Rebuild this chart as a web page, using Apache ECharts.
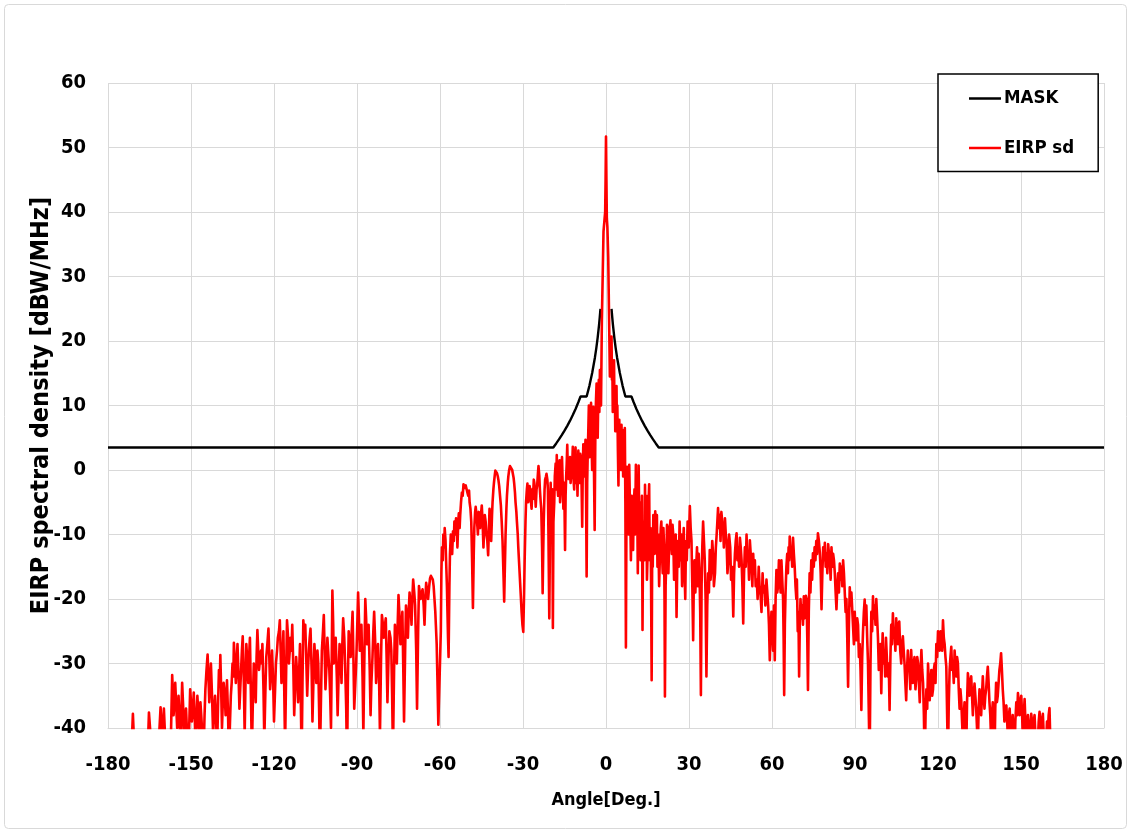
<!DOCTYPE html>
<html>
<head>
<meta charset="utf-8">
<script src="https://cdn.jsdelivr.net/npm/echarts@6/dist/echarts.min.js"></script>
<style>
html,body{margin:0;padding:0;background:#fff;}
#chart{width:1131px;height:833px;}
</style>
</head>
<body>
<div id="chart"></div>
<script>
// Axis ticks
const xTicks = [-180,-150,-120,-90,-60,-30,0,30,60,90,120,150,180];
const yTicks = [-40,-30,-20,-10,0,10,20,30,40,50,60];

// MASK (angle in degrees, dBW/MHz) - gap around boresight
const maskAngles = [-180,-19.05,-18,-17,-16,-15,-14,-13,-12,-11,-10,-9.2,-7,-6,-5,-4,-3.5,-3,-2.5,-2.25,-2,0,2,2.25,2.5,3,3.5,4,5,6,7,9.2,10,11,12,13,14,15,16,17,18,19.05,180];
const maskValues = [3.5,3.5,4.12,4.74,5.4,6.1,6.85,7.65,8.52,9.47,10.5,11.4,11.4,13.05,15.03,17.45,18.9,20.57,22.55,23.7,24.97,null,24.97,23.7,22.55,20.57,18.9,17.45,15.03,13.05,11.4,11.4,10.5,9.47,8.52,7.65,6.85,6.1,5.4,4.74,4.12,3.5,3.5];

// EIRP sd [angle, value] by region
const eirpLeftFar = [[-171.5,-45],[-171.2,-40],[-171,-37.8],[-170.7,-41],[-170.5,-44],[-169.8,-48],[-169,-45],[-168.5,-43],[-168,-41],[-167.5,-44],[-167,-46],[-166.5,-42],[-166,-40.5],[-165.6,-43],[-165.2,-37.6],[-164.8,-40],[-164.5,-44],[-163.8,-46],[-163,-42],[-162.5,-44],[-162,-46],[-161.5,-41],[-161,-36.8],[-160.7,-39],[-160.5,-43],[-160.1,-40],[-159.8,-37],[-159.4,-41],[-159,-45],[-158.5,-43],[-158,-41],[-157.8,-44],[-157.5,-47],[-157.1,-38],[-156.8,-31.8],[-156.5,-35],[-156.3,-38],[-156,-36],[-155.7,-33],[-155.3,-37],[-155,-40],[-154.7,-38],[-154.5,-35],[-154.1,-39],[-153.8,-44],[-153.5,-38],[-153.2,-33],[-152.8,-37],[-152.5,-42],[-152.1,-39],[-151.8,-37],[-151.4,-41],[-151,-45],[-150.6,-39],[-150.3,-34],[-150,-36],[-149.7,-39],[-149.3,-37],[-149,-34.5],[-148.6,-39],[-148.3,-44],[-148,-39],[-147.7,-35],[-147.3,-38],[-147,-41],[-146.6,-36],[-146.3,-38],[-145.9,-41],[-145.5,-45],[-145.1,-38],[-144.8,-34],[-144.4,-31],[-144,-28.6],[-143.7,-32],[-143.4,-36],[-143.1,-33],[-142.8,-30],[-142.4,-35],[-142,-41],[-141.6,-37],[-141.3,-35],[-140.9,-39],[-140.6,-44],[-140.2,-36],[-139.9,-31],[-139.6,-33],[-139.4,-28.7],[-139.1,-34],[-138.8,-40],[-138.5,-36],[-138.2,-33],[-137.8,-35],[-137.5,-38],[-137.2,-35],[-137,-32.6],[-136.6,-38],[-136.3,-45],[-135.9,-39],[-135.6,-35],[-135.3,-33],[-135,-30],[-134.7,-32],[-134.5,-26.8],[-134.1,-30],[-133.8,-33],[-133.5,-30],[-133.2,-27],[-132.8,-32],[-132.5,-37],[-132.2,-34],[-131.9,-31],[-131.6,-28],[-131.3,-25.8],[-130.9,-33],[-130.6,-41],[-130.3,-33],[-130,-27],[-129.6,-30],[-129.3,-33],[-129,-29],[-128.7,-26],[-128.3,-36],[-128,-44],[-127.6,-35],[-127.3,-30],[-126.9,-33],[-126.6,-36],[-126.3,-29],[-126,-24.8],[-125.7,-28],[-125.4,-31],[-125,-29],[-124.7,-28],[-124.4,-30],[-124.2,-27],[-123.8,-34],[-123.5,-42],[-123.1,-34],[-122.8,-29],[-122.4,-27],[-122,-24.6],[-121.7,-29],[-121.4,-34],[-121,-31],[-120.7,-28],[-120.3,-33],[-120,-39],[-119.6,-34],[-119.3,-30],[-118.9,-28],[-118.6,-26],[-118.2,-25],[-117.9,-23.3],[-117.6,-28],[-117.3,-33],[-116.9,-29],[-116.6,-25],[-116.3,-34],[-116,-43],[-115.6,-31],[-115.3,-23.3],[-114.9,-26],[-114.6,-30],[-114.3,-28],[-114,-26],[-113.7,-28],[-113.4,-24],[-113,-31],[-112.7,-38],[-112.3,-33],[-112,-29],[-111.6,-32],[-111.3,-36],[-110.9,-31],[-110.6,-27],[-110.3,-36],[-110,-45],[-109.7,-33],[-109.4,-23.3],[-109,-26],[-108.7,-24],[-108.3,-30],[-108,-35],[-107.7,-31],[-107.4,-28],[-107.1,-26],[-106.8,-24.6],[-106.4,-31],[-106.1,-39],[-105.7,-32],[-105.4,-27],[-105,-30],[-104.7,-33],[-104.3,-28],[-104,-30],[-103.7,-37],[-103.4,-45],[-103,-35],[-102.7,-28],[-102.3,-25],[-102,-22.5],[-101.7,-28],[-101.4,-34],[-101,-30],[-100.7,-26],[-100.3,-29],[-100,-31],[-99.7,-35],[-99.4,-40],[-99.1,-28]];
const eirpLeftMid = [[-98.9,-18.7],[-98.6,-24],[-98.4,-30],[-98,-28],[-97.7,-26],[-97.3,-32],[-97,-38],[-96.6,-31],[-96.3,-27],[-95.9,-29],[-95.6,-33],[-95.3,-27],[-95,-23],[-94.6,-26],[-94.3,-30],[-93.9,-37],[-93.6,-46],[-93.3,-33],[-93,-25],[-92.6,-27],[-92.3,-29],[-91.9,-25],[-91.6,-22],[-91.3,-29],[-91,-37],[-90.6,-33],[-90.3,-30],[-89.9,-24],[-89.6,-19],[-89.3,-23],[-89,-28],[-88.7,-26],[-88.4,-24],[-88,-32],[-87.7,-41],[-87.3,-28],[-87,-20],[-86.7,-23],[-86.4,-27],[-86.1,-25],[-85.8,-24],[-85.4,-31],[-85.1,-38],[-84.8,-33],[-84.4,-29],[-84.1,-25],[-83.8,-22],[-83.4,-27],[-83.1,-33],[-82.7,-29],[-82.4,-27],[-82,-33],[-81.7,-41],[-81.3,-29],[-81,-22.5],[-80.6,-24],[-80.3,-26],[-79.9,-24],[-79.6,-23],[-79.3,-29],[-79,-36],[-78.6,-29],[-78.3,-25],[-77.9,-26],[-77.6,-28],[-77.3,-35],[-77,-44],[-76.6,-31],[-76.3,-24],[-75.9,-27],[-75.6,-30],[-75.3,-24],[-75,-19.4],[-74.6,-23],[-74.3,-27],[-73.9,-24],[-73.6,-22],[-73.3,-30],[-73,-39],[-72.6,-28],[-72.3,-21],[-71.9,-23],[-71.6,-26],[-71.3,-22],[-71,-19],[-70.6,-21],[-70.3,-24],[-70,-20],[-69.7,-17],[-69.3,-19],[-69,-21],[-68.6,-28],[-68.3,-37],[-67.9,-25],[-67.6,-18],[-67.3,-19],[-67,-20],[-66.6,-19],[-66.3,-18.5],[-65.9,-21],[-65.6,-24],[-65.3,-20],[-65,-17.5],[-64.6,-19],[-64.3,-20],[-63.9,-18],[-63.6,-16.8],[-63.3,-16.4],[-63,-16.1],[-62.6,-17],[-62.3,-18],[-62,-20],[-61.7,-22],[-61.5,-24],[-61.2,-27],[-60.9,-33],[-60.6,-39.5],[-60.2,-39.5]];
const eirpLeftNear = [[-59.7,-25],[-59.5,-16],[-59.3,-12],[-59,-14],[-58.8,-10],[-58.5,-12],[-58.3,-9],[-58,-11],[-57.8,-14],[-57.5,-18],[-57.3,-22],[-57.1,-26],[-56.9,-29],[-56.6,-18],[-56.4,-13],[-56.1,-10],[-55.9,-11],[-55.6,-13],[-55.3,-9.5],[-55,-11],[-54.8,-8],[-54.5,-10],[-54.2,-7.5],[-53.9,-9],[-53.7,-12],[-53.4,-8],[-53.2,-6.7],[-52.9,-9],[-52.7,-7],[-52.4,-5],[-52.1,-3.5],[-51.8,-4],[-51.5,-2.2],[-51.2,-2.8],[-51,-3],[-50.7,-2.4],[-50.4,-2.5],[-50.1,-3.5],[-49.8,-4],[-49.5,-3.2],[-49.3,-5],[-49,-6],[-48.7,-8],[-48.4,-14],[-48.1,-21.4],[-47.8,-13],[-47.6,-9],[-47.3,-6.5],[-47.1,-5.7],[-46.8,-7],[-46.6,-8],[-46.3,-10],[-46,-6.5],[-45.7,-7.5],[-45.5,-9],[-45.2,-7],[-44.9,-5.5],[-44.6,-8],[-44.3,-12],[-44,-9],[-43.8,-7],[-43.5,-8],[-43.2,-10],[-42.9,-11],[-42.6,-13.2],[-42.3,-9],[-42.1,-6],[-41.8,-8],[-41.5,-11],[-41.2,-7],[-41,-5],[-40.7,-3],[-40.5,-2],[-40.2,-0.8],[-40,-0.1],[-39.7,-0.3],[-39.4,-0.5],[-39.1,-1],[-38.9,-1.5],[-38.6,-2.5],[-38.3,-4],[-38,-5.5],[-37.7,-8],[-37.4,-11],[-37.2,-14],[-37,-17],[-36.8,-20.4],[-36.6,-16],[-36.3,-10],[-36,-6],[-35.8,-4],[-35.5,-2],[-35.3,-1],[-35,0],[-34.7,0.6],[-34.4,0.5],[-34.2,0.4],[-33.9,0],[-33.7,-0.5],[-33.4,-1.2],[-33.2,-2],[-32.9,-3.5],[-32.7,-5],[-32.4,-6.5],[-32.2,-8],[-31.9,-10],[-31.7,-12],[-31.4,-14.5],[-31.1,-17],[-30.8,-19.5],[-30.5,-22],[-30.2,-24],[-29.9,-25.1],[-29.6,-19],[-29.4,-14],[-29.1,-8],[-28.9,-5],[-28.6,-3],[-28.4,-2.1],[-28.1,-5],[-27.9,-4],[-27.6,-2.5],[-27.4,-3],[-27.1,-5],[-26.9,-6],[-26.6,-3],[-26.4,-4.5],[-26.1,-1.5],[-25.9,-2],[-25.6,-4],[-25.4,-5.7],[-25.1,-3],[-24.9,-2.5],[-24.6,-0.5],[-24.4,0.6],[-24.1,-1],[-23.9,-3],[-23.6,-5],[-23.4,-6],[-23.1,-12],[-22.9,-19.1],[-22.7,-13],[-22.5,-8],[-22.2,-3],[-22,-1.5],[-21.7,-1],[-21.5,-0.6],[-21.2,-1.5],[-21,-3],[-20.8,-10],[-20.5,-23],[-20.2,-8],[-20,-2],[-19.9,-6],[-19.6,-10],[-19.4,-3],[-19.2,-24.5],[-19,-8],[-18.7,-5],[-18.5,-1],[-18.2,1],[-18,-3],[-17.8,2.3],[-17.6,-2],[-17.3,-4],[-17.1,0],[-16.8,1.5],[-16.6,-5],[-16.3,-2],[-16.1,0.5],[-15.9,2],[-15.6,-3],[-15.4,-6],[-15.1,-2],[-14.8,-12.4],[-14.6,-4],[-14.4,-1],[-14.2,1],[-14,3.9],[-13.8,0],[-13.5,-1.4],[-13.3,1.5],[-13,2],[-12.8,-2],[-12.5,0],[-12.2,1],[-12,3.6],[-11.8,-1],[-11.5,-3],[-11.3,1],[-11,3.5],[-10.8,-2],[-10.5,0],[-10.3,-4],[-10,3],[-9.8,0],[-9.5,-2],[-9.3,2.5],[-9,1.6],[-8.8,-3],[-8.6,-8.8],[-8.4,0],[-8.2,4],[-8,-1],[-7.8,0],[-7.6,3],[-7.4,4.7],[-7.2,-4],[-7,-16.5],[-6.8,-2],[-6.6,2.6],[-6.4,6],[-6.2,10],[-6,2],[-5.8,4.6],[-5.6,8],[-5.4,10.4],[-5.2,4],[-5,0],[-4.8,6],[-4.6,9.8],[-4.4,2],[-4.1,-9.3],[-3.9,3],[-3.8,8],[-3.6,11],[-3.4,13.4],[-3.2,7],[-3,5],[-2.8,11],[-2.6,14],[-2.4,9],[-2.2,15.5],[-2,12],[-1.8,10]];
const eirpCenter = [[-1.5,23],[-1.2,30],[-0.9,37],[-0.5,39],[-0.3,40],[-0.15,45],[0,51.7],[0.15,45],[0.3,39],[0.5,37.7],[0.8,33],[1.1,24],[1.4,14.5],[1.7,18],[2,20.7],[2.15,14],[2.3,16],[2.45,9],[2.6,11],[2.75,15],[2.9,17],[3.05,10],[3.2,12.9],[3.35,6],[3.5,8],[3.65,12],[3.8,13],[3.95,6],[4.1,10],[4.3,3],[4.5,-2.4],[4.65,4],[4.8,7.8],[5,2],[5.2,5],[5.4,0],[5.6,7],[5.8,3],[6,6.2],[6.2,-1],[6.4,1],[6.6,4],[6.8,6.5],[7,-5],[7.2,-27.5],[7.4,-6],[7.6,0.5],[7.8,-8],[8,-3],[8.2,-10],[8.4,0.8],[8.6,-4],[8.8,-8],[9,-14],[9.3,-4],[9.5,-9],[9.8,-12.4],[10,-6],[10.3,-3],[10.5,-10],[10.8,0.8],[11,-8],[11.3,-6],[11.5,-16],[11.8,0.7],[12,-7],[12.3,-5],[12.5,-14],[12.8,-10],[13,-4],[13.2,-24.8],[13.4,-10],[13.7,-8],[13.9,-14],[14.1,-2.3],[14.3,-9],[14.6,-4],[14.8,-17],[15.1,-12],[15.3,-6],[15.6,-2.2],[15.8,-14],[16.1,-9],[16.3,-18],[16.5,-32.6],[16.7,-12],[16.9,-15],[17.1,-7],[17.4,-8],[17.6,-13],[17.8,-6.4],[18.1,-12],[18.4,-7],[18.6,-15],[18.9,-10],[19.2,-18],[19.5,-13],[19.8,-9]];
const eirpRightNear = [[20,-8],[20.25,-13],[20.5,-16],[20.75,-9],[21,-12],[21.15,-20],[21.3,-35.1],[21.55,-18],[21.8,-14],[22.05,-8.5],[22.3,-9],[22.55,-16],[22.8,-12],[23.05,-9],[23.3,-7.8],[23.55,-11],[23.8,-13],[24.05,-8.5],[24.3,-10],[24.6,-17],[24.9,-14],[25.2,-10],[25.5,-22.8],[25.75,-15],[26,-11],[26.3,-15],[26.6,-8],[26.9,-14],[27.2,-10],[27.5,-18],[27.8,-13],[28.1,-9],[28.4,-16],[28.65,-20],[28.9,-11],[29.2,-14],[29.5,-8],[29.9,-12],[30.3,-5.6],[30.6,-9],[30.9,-11],[31.2,-18],[31.5,-26.4],[31.75,-17],[32,-14],[32.3,-19],[32.6,-15],[32.9,-12],[33.2,-18],[33.5,-13],[33.8,-16],[34.05,-22],[34.3,-34.9],[34.55,-18],[34.8,-12],[35.1,-8],[35.4,-11],[35.7,-14],[36,-20],[36.3,-32],[36.6,-21],[36.9,-16],[37.2,-19],[37.5,-12.4],[37.8,-17],[38.1,-15],[38.4,-11],[38.7,-13],[39,-18],[39.4,-16],[39.7,-12],[40,-10],[40.25,-8],[40.5,-5.9],[40.8,-9],[41.1,-7],[41.4,-11],[41.7,-6.5],[42,-8],[42.3,-9],[42.6,-12],[43,-7.5],[43.3,-10],[43.6,-11.3],[43.9,-16],[44.2,-14],[44.5,-10],[44.9,-12],[45.2,-17],[45.5,-15],[45.75,-18],[46,-22.7],[46.3,-16],[46.6,-13],[46.9,-11],[47.2,-9.8],[47.5,-14],[47.8,-12],[48.1,-15],[48.4,-10.5],[48.7,-12],[49,-14],[49.3,-18],[49.6,-23.8],[49.9,-16],[50.2,-12],[50.5,-15],[50.8,-10],[51.1,-14],[51.4,-13],[51.7,-17],[52,-10.9],[52.3,-13],[52.6,-15],[52.9,-18],[53.2,-13],[53.5,-16],[53.8,-14],[54.1,-18],[54.5,-17],[54.8,-20],[55.2,-15],[55.5,-18],[55.9,-19.6],[56.2,-22],[56.6,-16],[56.9,-19],[57.3,-18],[57.6,-21],[58,-17],[58.3,-19],[58.6,-21],[58.9,-24],[59.2,-29.5],[59.5,-25],[59.8,-22],[60.1,-25],[60.4,-28],[60.7,-21],[61,-29.5],[61.3,-20],[61.6,-15.5],[61.9,-19],[62.2,-18],[62.5,-14],[62.8,-16],[63.1,-19],[63.4,-14],[63.7,-17],[64,-20],[64.2,-26],[64.4,-34.9],[64.65,-24],[64.9,-19],[65.2,-15],[65.5,-13],[65.75,-16],[66,-12],[66.2,-14],[66.4,-10.3],[66.7,-13],[67,-12],[67.3,-15],[67.6,-10.5],[67.9,-13],[68.2,-15],[68.5,-18],[68.8,-20],[69,-17],[69.3,-25],[69.55,-22],[69.8,-32],[70.05,-24],[70.3,-20],[70.6,-23],[70.9,-21],[71.2,-24],[71.5,-19.6],[71.75,-23],[72,-22],[72.25,-19.5],[72.5,-20],[72.75,-26],[73,-34.1],[73.3,-22],[73.6,-16],[73.9,-19],[74.2,-14],[74.5,-17],[74.8,-12.9],[75.1,-15],[75.4,-12],[75.7,-14],[76,-11],[76.3,-13],[76.6,-9.8],[76.95,-11],[77.3,-12.9],[77.6,-16],[77.9,-21.6],[78.2,-16],[78.5,-12],[78.8,-14],[79.1,-11.3],[79.4,-15],[79.7,-13],[80,-16],[80.3,-11.5],[80.6,-13],[80.9,-14],[81.2,-17],[81.5,-12],[81.8,-15],[82.1,-13],[82.4,-14],[82.7,-16],[83,-19],[83.3,-21.6],[83.6,-18],[83.9,-16],[84.2,-19],[84.5,-14.5],[84.8,-17],[85.1,-15],[85.4,-18],[85.7,-14],[86,-16],[86.3,-16],[86.6,-22],[86.9,-20],[87.2,-26],[87.5,-33.6],[87.8,-24],[88.1,-18.2],[88.4,-21],[88.7,-19]];
const eirpRightFar = [[89.3,-24.3],[89.6,-27],[89.9,-22],[90.2,-25],[90.5,-26.4],[90.8,-23],[91.1,-24],[91.4,-29],[91.7,-27],[92,-31],[92.3,-37.2],[92.6,-29],[92.9,-25],[93.2,-22],[93.5,-20.1],[93.8,-24],[94.1,-21],[94.4,-26],[94.7,-30],[95,-38],[95.3,-45],[95.6,-30],[95.9,-22],[96.2,-25],[96.5,-19.6],[96.8,-23],[97.1,-21],[97.4,-24],[97.7,-20],[98,-23],[98.3,-26],[98.6,-31],[98.9,-30],[99.2,-27],[99.5,-34.6],[99.75,-29],[100,-25.3],[100.3,-30],[100.6,-28],[100.9,-32],[101.2,-26],[101.5,-29],[101.8,-32],[102.2,-30],[102.5,-37.2],[102.8,-29],[103.1,-24],[103.4,-27],[103.7,-22.2],[104,-26],[104.3,-25],[104.6,-28],[104.9,-23],[105.2,-26],[105.5,-27],[105.75,-24],[106,-23.5],[106.35,-28],[106.7,-30],[107,-27],[107.3,-25.8],[107.6,-28],[107.9,-30],[108.2,-33],[108.5,-35.7],[108.8,-31],[109.1,-28],[109.4,-30],[109.7,-31],[110,-34],[110.3,-27.9],[110.6,-31],[110.9,-33],[111.2,-30],[111.5,-29],[111.85,-34],[112.2,-32],[112.5,-29],[112.8,-30],[113.1,-33],[113.4,-36],[113.7,-31],[114,-27.9],[114.3,-31],[114.6,-33],[114.9,-38],[115.2,-46],[115.5,-38],[115.8,-34],[116.1,-37],[116.4,-30],[116.7,-33],[117,-35.7],[117.3,-33],[117.6,-31],[117.9,-35],[118.2,-34],[118.5,-31],[118.8,-30],[119.1,-33],[119.4,-27],[119.7,-29],[120,-25],[120.3,-27],[120.6,-28],[120.9,-25],[121.2,-26],[121.5,-28],[121.8,-23.3],[122.1,-26],[122.4,-27],[122.7,-29],[123,-30.5],[123.3,-38],[123.6,-45],[123.9,-36],[124.2,-31],[124.5,-29],[124.8,-27.4],[125.1,-31],[125.4,-30],[125.7,-33],[126,-28],[126.3,-30],[126.6,-32],[126.9,-29],[127.2,-30],[127.5,-34],[127.8,-37],[128.1,-34],[128.4,-35.7],[128.7,-39],[129,-42],[129.3,-38],[129.6,-36],[129.9,-39],[130.2,-44],[130.5,-36],[130.8,-31.5],[131.1,-33],[131.4,-35],[131.7,-33],[132,-32],[132.3,-35],[132.6,-38],[132.9,-35],[133.2,-33.1],[133.5,-35],[133.8,-37],[134.1,-40],[134.4,-43],[134.7,-37],[135,-34],[135.3,-36],[135.6,-38],[135.9,-35],[136.2,-32],[136.5,-35],[136.8,-37],[137.1,-35],[137.4,-34],[137.7,-32],[138,-30.5],[138.3,-33],[138.6,-36],[138.9,-38],[139.2,-42],[139.5,-38],[139.8,-36],[140.1,-39],[140.4,-45],[140.7,-37],[141,-33],[141.3,-36],[141.6,-35],[141.9,-33],[142.2,-31],[142.5,-30],[142.8,-28.4],[143.1,-31],[143.4,-34],[143.7,-36],[144,-39],[144.35,-37],[144.7,-36.5],[145,-39],[145.3,-42],[145.6,-38],[145.9,-37],[146.2,-40],[146.5,-44],[146.75,-40],[147,-38],[147.3,-41],[147.6,-46],[147.95,-39],[148.3,-36],[148.6,-38],[148.9,-34.6],[149.2,-36],[149.5,-38],[149.8,-36],[150.1,-35],[150.4,-38],[150.7,-42],[151,-38],[151.3,-35.5],[151.6,-39],[151.9,-44],[152.2,-40],[152.5,-38],[152.8,-40],[153.1,-43],[153.4,-40],[153.7,-37.8],[154,-39],[154.3,-41],[154.6,-39],[154.9,-38],[155.2,-41],[155.5,-46],[155.8,-43],[156.1,-42],[156.4,-39],[156.7,-37.5],[157,-39],[157.3,-41],[157.6,-39],[157.9,-37.8],[158.2,-41],[158.5,-45],[158.8,-43],[159.1,-42],[159.4,-39],[159.7,-40.5],[160,-38],[160.3,-36.9],[160.6,-42]];

const maskData = maskAngles.map((a, i) => [a, maskValues[i] === null ? '-' : maskValues[i]]);
const eirpData = [].concat(eirpLeftFar, eirpLeftMid, eirpLeftNear, eirpCenter, eirpRightNear, eirpRightFar);

const FONT = '"DejaVu Sans Condensed", "Liberation Sans", sans-serif';
const chart = echarts.init(document.getElementById('chart'), null, {renderer: 'canvas'});
chart.setOption({
  animation: false,
  backgroundColor: '#ffffff',
  graphic: [{
    type: 'rect', silent: true, z: -10,
    shape: {x: 4.5, y: 4.5, width: 1122, height: 824, r: 4},
    style: {fill: 'none', stroke: '#d9d9d9', lineWidth: 1}
  }],
  grid: {left: 108, right: 27, top: 83, bottom: 105, containLabel: false},
  legend: {
    orient: 'vertical',
    left: 938, top: 74,
    padding: [15, 24, 14, 31],
    itemGap: 30.5,
    itemWidth: 32, itemHeight: 2.5,
    icon: 'rect',
    backgroundColor: '#ffffff',
    borderColor: '#000000', borderWidth: 1.5,
    textStyle: {fontFamily: FONT, fontWeight: 'bold', fontSize: 18.5, color: '#000', padding: [0,0,0,-2]},
    data: ['MASK', 'EIRP sd']
  },
  xAxis: {
    type: 'value', min: xTicks[0], max: xTicks[xTicks.length - 1], interval: 30,
    name: 'Angle[Deg.]', nameLocation: 'middle', nameGap: 63, nameMoveOverlap: false,
    nameTextStyle: {fontFamily: FONT, fontWeight: 'bold', fontSize: 18, color: '#000'},
    axisLine: {show: true, onZero: false, lineStyle: {color: '#d9d9d9', width: 1}},
    axisTick: {show: false},
    axisLabel: {margin: 27, fontFamily: FONT, fontWeight: 'bold', fontSize: 20, color: '#000'},
    splitLine: {show: true, lineStyle: {color: '#d9d9d9', width: 1}}
  },
  yAxis: {
    type: 'value', min: yTicks[0], max: yTicks[yTicks.length - 1], interval: 10,
    name: 'EIRP spectral density [dBW/MHz]', nameLocation: 'middle', nameGap: 54, nameRotate: 90, nameMoveOverlap: false,
    nameTextStyle: {fontFamily: FONT, fontWeight: 'bold', fontSize: 25, color: '#000'},
    axisLine: {show: true, lineStyle: {color: '#d9d9d9', width: 1}},
    axisTick: {show: false},
    axisLabel: {margin: 22, fontFamily: FONT, fontWeight: 'bold', fontSize: 20, color: '#000'},
    splitLine: {show: true, lineStyle: {color: '#d9d9d9', width: 1}}
  },
  series: [
    {
      name: 'MASK', type: 'line', data: maskData, symbol: 'none', connectNulls: false,
      lineStyle: {color: '#000000', width: 2.4}, itemStyle: {color: '#000000'}, z: 2
    },
    {
      name: 'EIRP sd', type: 'line', data: eirpData, symbol: 'none', clip: true,
      lineStyle: {color: '#ff0000', width: 2.6, join: 'round'}, itemStyle: {color: '#ff0000'}, z: 3
    }
  ]
});
</script>
</body>
</html>
